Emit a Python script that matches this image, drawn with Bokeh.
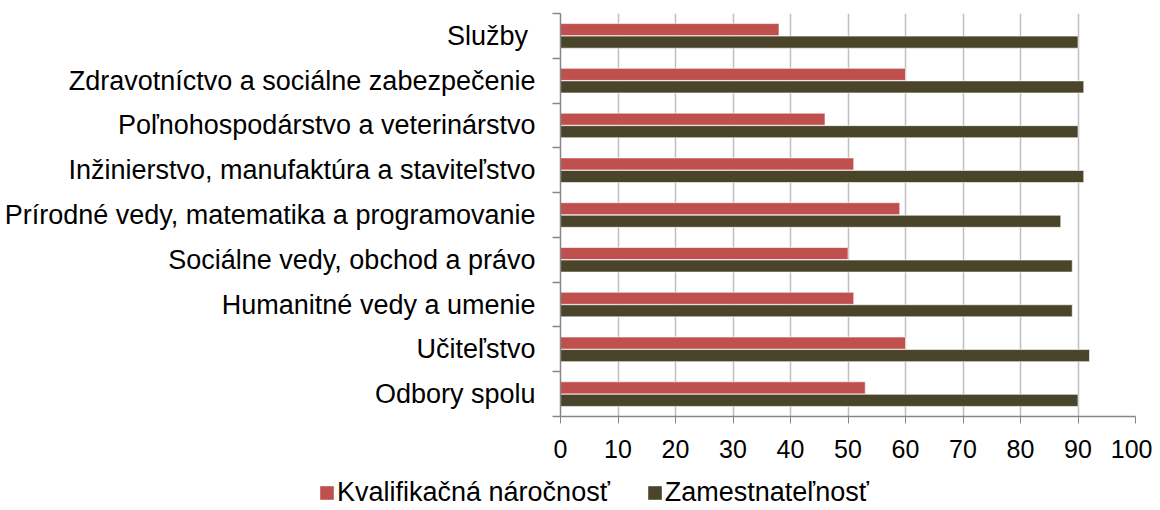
import numpy as np
from bokeh.plotting import figure
from bokeh.layouts import column
from bokeh.models import (Range1d, FixedTicker, Legend, LegendItem, ColumnDataSource)
from bokeh.embed import file_html
from bokeh.resources import INLINE

# Categories from bottom to top
categories = [
    "Odbory spolu",
    "Učiteľstvo",
    "Humanitné vedy a umenie",
    "Sociálne vedy, obchod a právo",
    "Prírodné vedy, matematika a programovanie",
    "Inžinierstvo, manufaktúra a staviteľstvo",
    "Poľnohospodárstvo a veterinárstvo",
    "Zdravotníctvo a sociálne zabezpečenie",
    "Služby ",
]
kvalifikacna = [53, 60, 51, 50, 59, 51, 46, 60, 38]
zamestnatelnost = [90, 92, 89, 89, 87, 91, 90, 91, 90]
x_ticks = [0, 10, 20, 30, 40, 50, 60, 70, 80, 90, 100]
series_names = ["Kvalifikačná náročnosť", "Zamestnateľnosť"]
colors = ["#C0504D", "#4A452A"]

FONT = "Liberation Sans"
n = len(categories)
centers = np.arange(n) + 0.5
offset = 0.14
bar_h = 0.27

W = 1152
p = figure(width=W, height=466, output_backend="svg", toolbar_location=None,
           x_range=Range1d(0, 100), y_range=Range1d(0, n))
p.min_border_left = 560
p.min_border_right = 17
p.min_border_top = 13
p.min_border_bottom = 50
p.outline_line_color = None
p.background_fill_color = "white"
p.border_fill_color = "white"
p.frame_align = False

src = ColumnDataSource(dict(
    y1=centers + offset, y2=centers - offset,
    k=kvalifikacna, z=zamestnatelnost))

r1 = p.hbar(y="y1", left=0, right="k", height=bar_h, source=src,
            fill_color=colors[0], line_color="white", line_alpha=0.6, line_width=1)
r2 = p.hbar(y="y2", left=0, right="z", height=bar_h, source=src,
            fill_color=colors[1], line_color="white", line_alpha=0.6, line_width=1)

# x axis
xa = p.xaxis[0]
xa.ticker = FixedTicker(ticks=x_ticks)
xa.axis_line_color = "#868686"
xa.axis_line_width = 1.5
xa.major_tick_line_color = "#868686"
xa.major_tick_out = 7
xa.major_tick_in = 0
xa.minor_tick_line_color = None
xa.major_label_text_font = FONT
xa.major_label_text_font_size = "25px"
xa.major_label_text_color = "black"
xa.major_label_standoff = 16

# y axis
ya = p.yaxis[0]
ya.ticker = FixedTicker(ticks=list(centers), minor_ticks=list(np.arange(n + 1)))
ya.major_label_overrides = {float(c): lab for c, lab in zip(centers, categories)}
ya.axis_line_color = "#868686"
ya.axis_line_width = 1.5
ya.major_tick_out = 0
ya.major_tick_in = 0
ya.minor_tick_out = 8
ya.minor_tick_in = 0
ya.minor_tick_line_color = "#868686"
ya.minor_tick_line_width = 1.5
ya.major_label_text_font = FONT
ya.major_label_text_font_size = "27px"
ya.major_label_text_color = "black"
ya.major_label_standoff = 17

p.xgrid.ticker = FixedTicker(ticks=x_ticks)
p.xgrid.grid_line_color = "#BFBFBF"
p.xgrid.grid_line_width = 1.5
p.ygrid.grid_line_color = None

# Legend strip below the chart (legend swatches use off-view proxy bars)
lf = figure(width=W, height=42, output_backend="svg", toolbar_location=None,
            x_range=Range1d(0, 1), y_range=Range1d(0, 1),
            x_axis_location=None, y_axis_location=None, min_border=0)
lf.grid.visible = False
lf.outline_line_color = None
lf.frame_align = False
lr1 = lf.hbar(y=[-5], left=[-5], right=[-4], height=0.5,
              fill_color=colors[0], line_color=None)
lr2 = lf.hbar(y=[-5], left=[-5], right=[-4], height=0.5,
              fill_color=colors[1], line_color=None)

legend = Legend(items=[LegendItem(label=series_names[0], renderers=[lr1]),
                       LegendItem(label=series_names[1], renderers=[lr2])],
                orientation="horizontal", location=(318, 0),
                label_text_font=FONT, label_text_font_size="27px",
                label_text_color="black",
                glyph_width=17, glyph_height=17, label_standoff=2, spacing=36,
                padding=0, margin=0, border_line_color=None,
                background_fill_alpha=0)
lf.add_layout(legend)

layout = column(p, lf, spacing=0)
open("out.html", "w").write(file_html(layout, INLINE))
